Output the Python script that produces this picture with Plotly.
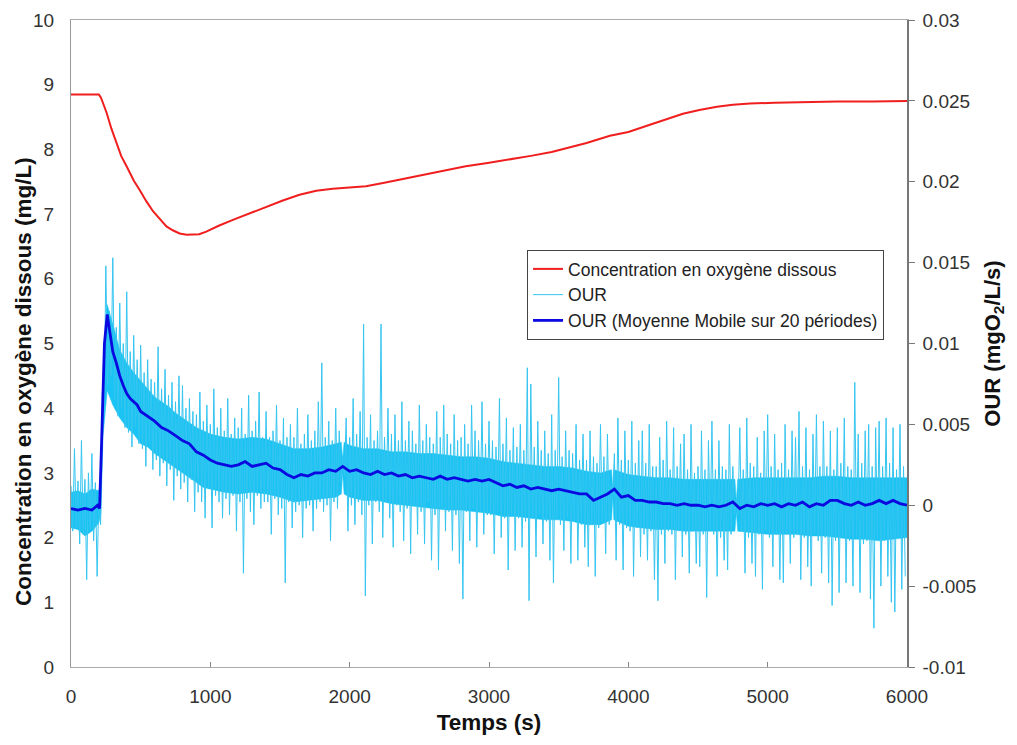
import numpy as np
import plotly.graph_objects as go

# ---- Dissolved oxygen concentration (mg/L), left axis ----
do_time = [0, 200, 215, 255, 290, 327, 360, 399, 450, 494, 540, 590, 640, 685, 730, 780,
           830, 876, 920, 971, 1060, 1162, 1280, 1401, 1520, 1640, 1760, 1878, 2000, 2117,
           2240, 2356, 2475, 2594, 2713, 2833, 2990, 3143, 3300, 3450, 3558, 3700, 3868,
           4000, 4155, 4280, 4392, 4510, 4636, 4750, 4873, 5050, 5232, 5500, 5750, 6000]
do_conc = [8.85, 8.85, 8.80, 8.57, 8.32, 8.10, 7.90, 7.74, 7.52, 7.37, 7.20, 7.04, 6.91,
           6.81, 6.75, 6.70, 6.68, 6.68, 6.69, 6.73, 6.82, 6.91, 7.01, 7.11, 7.21, 7.30,
           7.36, 7.39, 7.41, 7.43, 7.48, 7.53, 7.58, 7.64, 7.69, 7.74, 7.79, 7.84, 7.90,
           7.96, 8.02, 8.10, 8.21, 8.27, 8.38, 8.47, 8.55, 8.61, 8.66, 8.69, 8.71, 8.72,
           8.73, 8.74, 8.74, 8.75]

# ---- Raw OUR (mgO2/L/s), right axis, sampled every 12.5 s ----
our_raw = [
    .0012, -.0016, .0035, -.0014, .0015, -.0024, .0040, -.0018,
    .0016, -.0046, .0020, -.0015, .0032, -.0022, .0014, -.0044,
    .0008, -.0012, .0070, .0055, .0148, .0075, .0120, .0080,
    .0153, .0065, .0110, .0055, .0125, .0060, .0100, .0048,
    .0132, .0045, .0095, .0036, .0105, .0048, .0090, .0038,
    .0099, .0035, .0082, .0024, .0090, .0038, .0078, .0022,
    .0076, .0028, .0098, .0018, .0072, .0026, .0084, .0012,
    .0068, .0022, .0076, .0003, .0064, .0018, .0080, .0010,
    .0074, .0014, .0060, .0002, .0066, .0016, .0058, -.0004,
    .0056, .0008, .0070, .0002, .0052, -.0008, .0062, .0010,
    .0050, -.0014, .0072, .0006, .0048, .0002, .0060, -.0008,
    .0046, .0004, .0066, -.0006, .0044, .0006, .0054, -.0016,
    .0048, .0002, .0060, -.0042, .0044, .0004, .0068, -.0004,
    .0046, -.0012, .0052, .0006, .0070, -.0002, .0042, .0002,
    .0058, .0002, .0042, -.0018, .0046, .0004, .0062, -.0006,
    .0040, -.0002, .0054, -.0048, .0042, .0002, .0050, -.0014,
    .0042, -.0004, .0060, 0.0, .0038, -.0020, .0044, -.0002,
    .0056, 0.0, .0040, -.0016, .0046, -.0002, .0064, .0002,
    .0088, -.0004, .0042, 0.0, .0052, -.0022, .0040, .0002,
    .0060, -.0002, .0046, .0014, .0030, .0018, .0054, -.0016,
    .0042, 0.0, .0066, -.0012, .0044, .0002, .0058, -.0006,
    .0112, -.0056, .0042, 0.0, .0056, -.0024, .0040, .0002,
    .0046, -.0004, .0112, -.0020, .0042, .0002, .0060, -.0008,
    .0044, -.0026, .0056, 0.0, .0040, -.0004, .0064, -.0022,
    .0040, -.0002, .0052, -.0030, .0046, 0.0, .0038, -.0018,
    .0062, -.0004, .0040, -.0024, .0050, .0002, .0042, -.0034,
    .0038, -.0006, .0058, -.0040, .0042, -.0002, .0062, -.0016,
    .0044, -.0004, .0038, -.0028, .0056, -.0006, .0040, -.0036,
    .0042, -.0058, .0050, -.0004, .0038, -.0022, .0062, -.0002,
    .0046, -.0026, .0040, -.0004, .0064, -.0018, .0038, -.0006,
    .0052, -.0006, .0040, -.0030, .0036, -.0004, .0066, -.0020,
    .0038, -.0008, .0054, -.0040, .0034, -.0006, .0048, -.0028,
    .0036, -.0008, .0050, -.0026, .0034, -.0010, .0085, -.0059,
    .0075, -.0008, .0036, -.0032, .0052, -.0006, .0034, -.0024,
    .0046, -.0010, .0032, -.0034, .0056, -.0048, .0034, -.0008,
    .0079, -.0012, .0030, -.0028, .0046, -.0008, .0034, -.0036,
    .0032, -.0010, .0050, -.0034, .0028, -.0012, .0044, -.0026,
    .0028, -.0038, .0046, -.0012, .0030, -.0044, .0026, -.0014,
    .0050, -.0010, .0030, -.0030, .0044, -.0012, .0012, .0004,
    .0032, -.0034, .0054, -.0012, .0028, -.0040, .0046, -.0014,
    .0028, -.0016, .0052, -.0044, .0026, -.0014, .0040, -.0032,
    .0046, -.0018, .0026, -.0034, .0050, -.0016, .0024, -.0046,
    .0024, -.0059, .0042, -.0018, .0028, -.0036, .0052, -.0016,
    .0022, -.0018, .0048, -.0046, .0024, -.0016, .0038, -.0032,
    .0044, -.0018, .0022, -.0042, .0050, -.0016, .0020, -.0036,
    .0024, -.0038, .0046, -.0018, .0022, -.0057, .0040, -.0016,
    .0052, -.0018, .0022, -.0044, .0040, -.0020, .0024, -.0034,
    .0022, -.0040, .0050, -.0018, .0024, -.0006, .0004, -.0006,
    .0048, -.0016, .0022, -.0042, .0054, -.0020, .0026, -.0036,
    .0024, -.0044, .0042, -.0018, .0020, -.0052, .0046, -.0016,
    .0056, -.0020, .0024, -.0038, .0044, -.0018, .0022, -.0046,
    .0026, -.0048, .0050, -.0018, .0022, -.0036, .0046, -.0020,
    .0042, -.0018, .0058, -.0046, .0024, -.0020, .0048, -.0038,
    .0022, -.0050, .0044, -.0018, .0056, -.0022, .0024, -.0042,
    .0052, -.0020, .0024, -.0048, .0046, -.0062, .0022, -.0022,
    .0048, -.0054, .0026, -.0020, .0054, -.0048, .0024, -.0022,
    .0022, -.0050, .0076, -.0020, .0044, -.0054, .0026, -.0024,
    .0046, -.0022, .0050, -.0058, .0024, -.0076, .0048, -.0020,
    .0052, -.0050, .0024, -.0022, .0054, -.0044, .0026, -.0060,
    .0048, -.0066, .0022, -.0020, .0050, -.0052, .0024, -.0044,
]
our_sample_step = 12.5
our_time = np.arange(len(our_raw)) * our_sample_step

# ---- Dense core of the raw OUR trace (upper / lower edge) ----
band_time = [0, 50, 100, 150, 200, 215, 230, 260, 300, 350, 400, 450, 500, 550, 600, 650,
             700, 750, 800, 850, 900, 950, 1000, 1100, 1200, 1300, 1400, 1500, 1600, 1700,
             1800, 1900, 1940, 1950, 1960, 2000, 2100, 2200, 2300, 2400, 2500, 2600, 2700,
             2800, 2900, 3000, 3100, 3200, 3300, 3400, 3500, 3600, 3700, 3800, 3880, 3888,
             3896, 4000, 4100, 4200, 4300, 4400, 4500, 4600, 4700, 4765, 4775, 4785, 4900,
             5000, 5100, 5200, 5300, 5400, 5500, 5600, 5700, 5800, 5900, 6000]
band_hi = [.0008, .0009, .0007, .0010, .0009, .0015, .0082, .0124, .0112, .0096, .0088,
           .0082, .0077, .0072, .0067, .0064, .0061, .0057, .0054, .0051, .0048, .0046,
           .0044, .0042, .0041, .0042, .0041, .0038, .0035, .0035, .0036, .0038, .0039,
           .0028, .0039, .0037, .0035, .0035, .0033, .0033, .0032, .0032, .0031, .0030,
           .0030, .0029, .0027, .0026, .0025, .0024, .0024, .0023, .0021, .0020, .0022,
           .0010, .0022, .0019, .0018, .0017, .0017, .0016, .0016, .0016, .0016, .0016,
           .0002, .0016, .0017, .0017, .0017, .0017, .0017, .0018, .0018, .0017, .0017,
           .0017, .0017, .0017]
band_lo = [-.0014, -.0015, -.0019, -.0016, -.0011, -.0005, .0043, .0071, .0062, .0054,
           .0048, .0044, .0038, .0036, .0032, .0029, .0026, .0023, .0020, .0017, .0014,
           .0011, .0010, .0008, .0007, .0008, .0007, .0005, .0002, .0003, .0004, .0005,
           .0007, .0020, .0007, .0005, .0003, .0003, .0001, 0.0, -.0001, -.0002, -.0003,
           -.0003, -.0004, -.0005, -.0007, -.0007, -.0008, -.0009, -.0009, -.0010, -.0012,
           -.0012, -.0009, .0006, -.0009, -.0013, -.0014, -.0015, -.0015, -.0016, -.0016,
           -.0016, -.0016, -.0016, -.0004, -.0016, -.0017, -.0018, -.0018, -.0018, -.0019,
           -.0019, -.0020, -.0021, -.0021, -.0022, -.0021, -.0020]

# ---- OUR moving average (20 periods) ----
avg_time = [0, 50, 100, 150, 190, 205, 220, 240, 260, 280, 300, 325, 350, 375, 400, 425,
            450, 475, 500, 550, 600, 650, 700, 750, 800, 850, 900, 950, 1000, 1050, 1100,
            1150, 1200, 1250, 1300, 1350, 1400, 1450, 1500, 1550, 1600, 1650, 1700, 1750,
            1800, 1850, 1900, 1950, 2000, 2050, 2100, 2150, 2200, 2250, 2300, 2350, 2400,
            2450, 2500, 2550, 2600, 2650, 2700, 2750, 2800, 2850, 2900, 2950, 3000, 3050,
            3100, 3150, 3200, 3250, 3300, 3350, 3400, 3450, 3500, 3550, 3600, 3650, 3700,
            3750, 3800, 3850, 3900, 3950, 4000, 4050, 4100, 4150, 4200, 4250, 4300, 4350,
            4400, 4450, 4500, 4550, 4600, 4650, 4700, 4750, 4800, 4850, 4900, 4950, 5000,
            5050, 5100, 5150, 5200, 5250, 5300, 5350, 5400, 5450, 5500, 5550, 5600, 5650,
            5700, 5750, 5800, 5850, 5900, 5950, 6000]
avg_our = [-.0002, -.0003, -.0002, -.0003, 0.0, -.0002, .0040, .0100, .0118, .0105, .0095,
           .0088, .0080, .0074, .0069, .0066, .0064, .0062, .0058, .0055, .0052, .0048,
           .0046, .0043, .0040, .0038, .0033, .0031, .0028, .0026, .0025, .0024, .0025,
           .0027, .0024, .0025, .0026, .0023, .0022, .0019, .0017, .0019, .0018, .0020,
           .0020, .0022, .0021, .0024, .0021, .0022, .0020, .0019, .0021, .0019, .0020,
           .0018, .0019, .0017, .0018, .0017, .0016, .0018, .0016, .0017, .0016, .0015,
           .0016, .0015, .0016, .0014, .0012, .0013, .0011, .0012, .0010, .0011, .0010,
           .0009, .0010, .0009, .0008, .0007, .0007, .0003, .0005, .0007, .0010, .0005,
           .0006, .0003, .0003, .0002, .0002, .0001, .0001, 0.0, .0001, 0.0, 0.0, -.0001,
           0.0, -.0001, 0.0, .0002, -.0002, 0.0, -.0001, .0001, 0.0, .0001, -.0001, .0001,
           0.0, .0002, -.0001, .0001, 0.0, .0003, .0003, .0001, 0.0, .0002, 0.0, .0001,
           .0003, .0001, .0003, .0001, 0.0]

left_ticks = [0, 1, 2, 3, 4, 5, 6, 7, 8, 9, 10]
right_ticks = [-0.01, -0.005, 0, 0.005, 0.01, 0.015, 0.02, 0.025, 0.03]
right_tick_text = ["-0.01", "-0.005", "0", "0.005", "0.01", "0.015", "0.02", "0.025", "0.03"]
x_ticks = [0, 1000, 2000, 3000, 4000, 5000, 6000]

FONT = "Liberation Sans, Arial, sans-serif"
LIGHT = "#19C3F3"

fig = go.Figure()
fig.add_trace(go.Scatter(x=band_time + band_time[::-1], y=band_hi + band_lo[::-1],
                         mode="lines", fill="toself", fillcolor=LIGHT, yaxis="y2",
                         line=dict(color=LIGHT, width=0.5), showlegend=False,
                         hoverinfo="skip"))
fig.add_trace(go.Scatter(x=our_time, y=our_raw, mode="lines", name="OUR", yaxis="y2",
                         line=dict(color="#35C5F0", width=1), legendrank=2))
fig.add_trace(go.Scatter(x=avg_time, y=avg_our, mode="lines",
                         name="OUR (Moyenne Mobile sur 20 périodes)", yaxis="y2",
                         line=dict(color="#0A0AE0", width=2.8), legendrank=3))
fig.add_trace(go.Scatter(x=do_time, y=do_conc, mode="lines",
                         name="Concentration en oxygène dissous",
                         line=dict(color="#F01E1E", width=2), legendrank=1))

fig.update_layout(
    width=1017, height=745,
    margin=dict(l=63, r=118, t=12, b=86),
    paper_bgcolor="white", plot_bgcolor="white",
    font=dict(family=FONT, size=19, color="#333"),
    showlegend=True,
    legend=dict(x=0.5455, y=0.6445, xanchor="left", yanchor="top",
                bgcolor="white", bordercolor="#444", borderwidth=1,
                font=dict(size=17.5, color="#222"), tracegroupgap=0,
                itemwidth=30),
    xaxis=dict(range=[0, 6000], tickvals=x_ticks, showgrid=False, zeroline=False,
               showline=True, linecolor="#aaa", linewidth=1, mirror=True,
               ticks="inside", ticklen=5, tickcolor="#888", automargin=False,
               ticklabelstandoff=12,
               title=dict(text="<b>Temps (s)</b>", font=dict(size=22.5, color="#111"),
                          standoff=8)),
    yaxis=dict(range=[0, 10], tickvals=left_ticks, showgrid=False, zeroline=False,
               showline=True, linecolor="#999", linewidth=1, ticks="", automargin=False,
               ticklabelstandoff=12),
    yaxis2=dict(range=[-0.01, 0.03], overlaying="y", side="right",
                tickvals=right_ticks, ticktext=right_tick_text,
                showgrid=False, zeroline=False, showline=True, linecolor="#777",
                linewidth=1.5, ticks="outside", ticklen=6, tickcolor="#777",
                automargin=False, ticklabelstandoff=4,
                title=dict(text="<b>OUR (mgO<sub>2</sub>/L/s)</b>",
                           font=dict(size=22, color="#111"), standoff=9)),
    annotations=[dict(text="<b>Concentration en oxygène dissous (mg/L)</b>",
                      textangle=-90, xref="paper", yref="paper",
                      x=-0.0562, y=0.4405, xanchor="center", yanchor="middle",
                      showarrow=False, font=dict(size=22.5, color="#111"))],
)

fig.write_html("out.html")
